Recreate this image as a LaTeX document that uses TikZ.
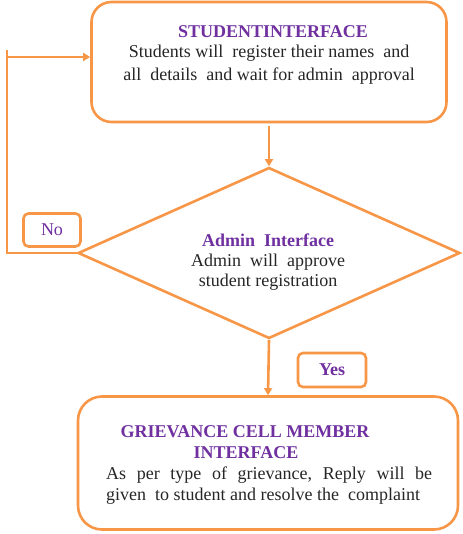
\documentclass[tikz,border=0pt]{standalone}
\usepackage{fontspec}
\setmainfont{Liberation Serif}
\usetikzlibrary{shapes.geometric,arrows.meta}
\definecolor{boxorange}{HTML}{F79646}
\definecolor{headpurple}{HTML}{7030A0}
\definecolor{bodygrey}{HTML}{262626}
\tikzset{
  stagebox/.style={rectangle,rounded corners=20pt,draw=boxorange,line width=2.6pt,fill=white},
  tagbox/.style={rectangle,rounded corners=5pt,draw=boxorange,line width=2.6pt,fill=white,text=headpurple,font={\fontsize{18}{21}\selectfont}},
  decisionbox/.style={diamond,draw=boxorange,line width=2.6pt,inner sep=0pt},
  headtext/.style={text=headpurple,font={\fontsize{18}{21}\selectfont\bfseries}},
  bodytext/.style={text=bodygrey,font={\fontsize{18}{21}\selectfont},inner sep=0pt},
  flowline/.style={draw=boxorange,line width=2.6pt},
  flowarrow/.style={flowline,-{Triangle[length=7pt,width=8pt]}}
}
\begin{document}
\begin{tikzpicture}[x=1pt,y=-1pt]
\useasboundingbox (0,0) rectangle (462,534);
\node (student) at (269,62) [stagebox,minimum width=355pt,minimum height=120pt] {};
\node at (273,32) [headtext] {STUDENTINTERFACE};
\node at (269,53) [bodytext] {Students will \ register their names \ and};
\node at (269,76) [bodytext] {all \ details \ and wait for admin \ approval};
\node (admin) at (269,253) [decisionbox,minimum width=382pt,minimum height=171pt] {};
\node at (268,240) [headtext] {Admin \ Interface};
\node at (268,262) [bodytext] {Admin \ will \ approve};
\node at (268,282) [bodytext] {student registration};
\node (no) at (52,230) [tagbox,minimum width=57pt,minimum height=33pt] {No};
\node (yes) at (332,370) [tagbox,minimum width=68pt,minimum height=34pt,font={\fontsize{18}{21}\selectfont\bfseries}] {Yes};
\node (grievance) at (268,463) [stagebox,rounded corners=24pt,minimum width=380pt,minimum height=133pt] {};
\node at (245,432) [headtext] {GRIEVANCE CELL MEMBER};
\node at (246,453) [headtext] {INTERFACE};
\node at (106,486) [bodytext,anchor=west,text width=326pt,align=justify] {As \ per \ type \ of \ grievance, \ Reply \ will \ be\linebreak given \ to student and resolve the \ complaint};
% connectors
\coordinate (looptop) at (7,50);
\coordinate (loopturn) at (7,57);
\draw[flowarrow] (student.south) ++(0,3) -- (admin.north);
\draw[flowline] (admin.west) -| (looptop);
\draw[flowarrow] (loopturn) -- (student.west |- loopturn);
\draw[flowarrow] (admin.south) -- (grievance.north);
\end{tikzpicture}
\end{document}
